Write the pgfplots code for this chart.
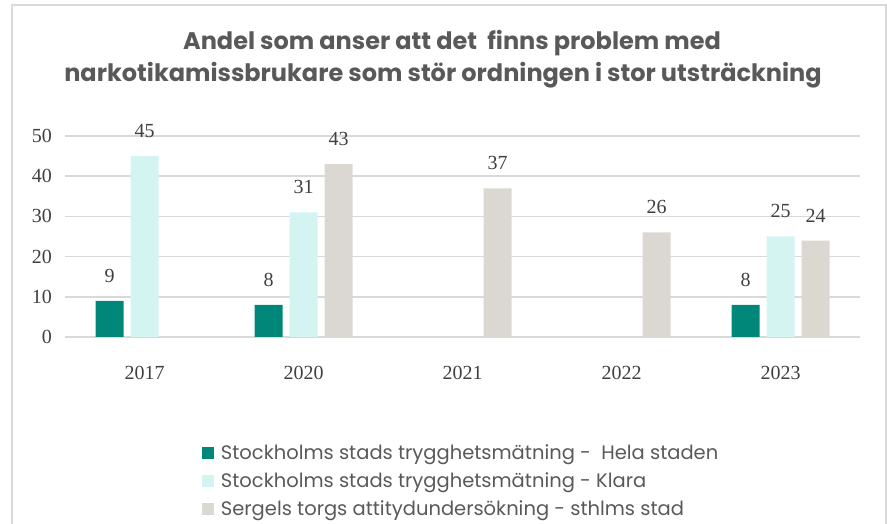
\documentclass[border=0pt]{standalone}
\usepackage{pgfplots}
\pgfplotsset{compat=1.18}
\usepackage{fontspec}
\setmainfont{Liberation Serif}
\newfontfamily\poppins{Poppins}
\definecolor{cteal}{HTML}{00877A}
\definecolor{ccyan}{HTML}{D4F4F2}
\definecolor{cgray}{HTML}{DBD8D2}
\definecolor{gridgray}{HTML}{D9D9D9}
\definecolor{titlegray}{HTML}{595959}
\definecolor{numgray}{HTML}{404040}
\begin{document}
\begin{tikzpicture}[x=1pt,y=1pt]
\useasboundingbox (0,0) rectangle (887,524);
\draw[gridgray, line width=1.2pt] (12,-2) -- (12,519) -- (886,519) -- (886,-2);
\node[font=\poppins\bfseries\fontsize{24}{28}\selectfont, text=titlegray, anchor=base] at (452,474) {Andel som anser att det\ \ finns problem med};
\node[font=\poppins\bfseries\fontsize{24}{28}\selectfont, text=titlegray, anchor=base] at (443,442) {narkotikamissbrukare som stör ordningen i stor utsträckning};
\begin{axis}[
  at={(65pt,187pt)}, anchor=south west,
  scale only axis, width=795pt, height=201pt,
  ymin=0, ymax=50, xmin=-0.5, xmax=4.5,
  ytick={0,10,...,50},
  xtick={0,1,2,3,4},
  xticklabels={2017,2020,2021,2022,2023},
  axis line style={draw=none},
  tick style={draw=none},
  ymajorgrids,
  major grid style={line width=1.5pt, color=gridgray},
  /pgf/number format/assume math mode=true,
  ticklabel style={font=\fontsize{20}{24}\selectfont, text=numgray},
  yticklabel style={inner sep=0pt, anchor=east, xshift=-13pt},
  xticklabel style={inner sep=0pt, anchor=base, yshift=-38pt},
  ybar=7pt, bar width=28pt,
  nodes near coords,
  every node near coord/.append style={anchor=base, inner sep=0pt, yshift=18.5pt, font=\fontsize{20}{24}\selectfont, text=numgray},
  legend style={at={(0.172,-0.525)}, anchor=north west, draw=none, fill=none,
    font=\poppins\fontsize{19.5}{22}\selectfont, text=titlegray,
    row sep=7.5pt, inner sep=0pt, /tikz/every odd column/.append style={column sep=5pt}},
  legend cell align=left,
  legend image code/.code={\fill[#1] (0pt,-6pt) rectangle (12pt,6pt);},
]
\addplot[fill=cteal, draw=none] coordinates {(0,9) (1,8) (4,8)};
\addlegendentry{Stockholms stads trygghetsmätning -\ \ Hela staden}
\addplot[fill=ccyan, draw=none] coordinates {(0,45) (1,31) (4,25)};
\addlegendentry{Stockholms stads trygghetsmätning - Klara}
\addplot[fill=cgray, draw=none] coordinates {(1,43) (2,37) (3,26) (4,24)};
\addlegendentry{Sergels torgs attitydundersökning - sthlms stad}
\end{axis}
\end{tikzpicture}
\end{document}
